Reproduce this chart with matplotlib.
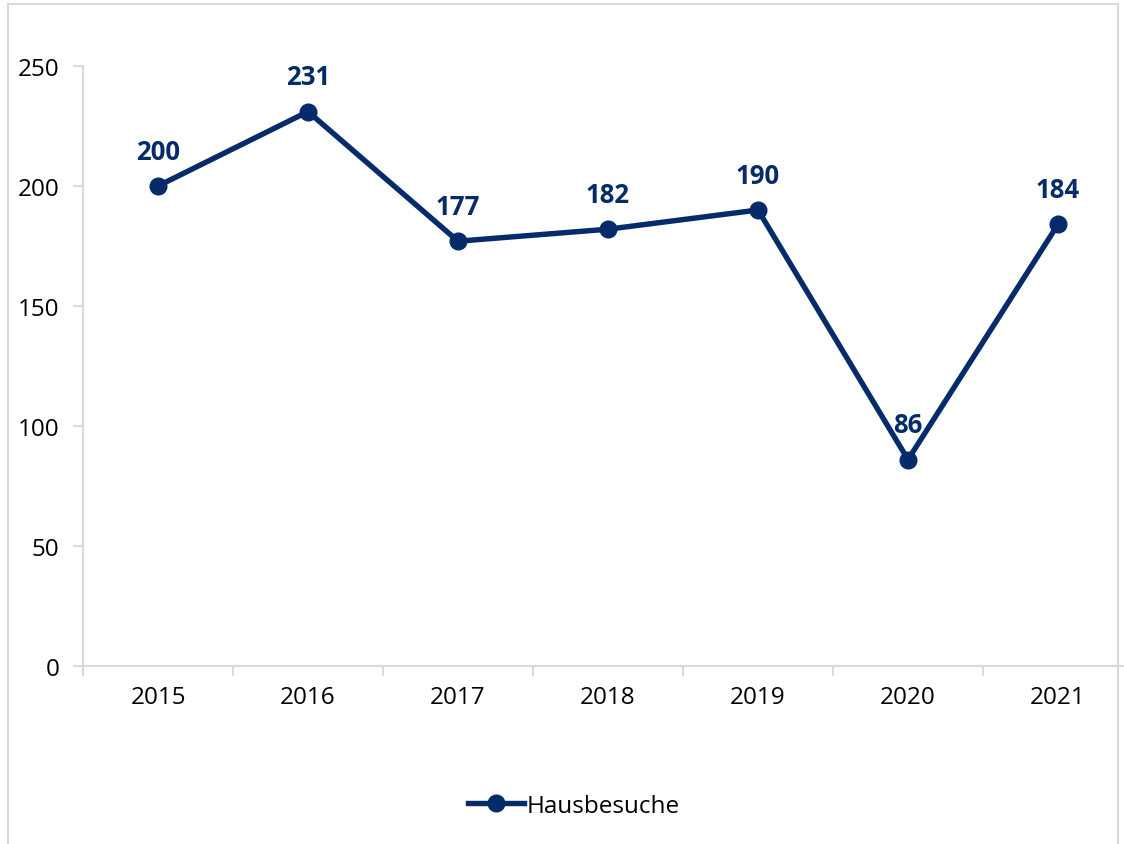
import matplotlib
matplotlib.use("Agg")
import matplotlib.pyplot as plt
from matplotlib.patches import Rectangle
from matplotlib.lines import Line2D

years = ["2015", "2016", "2017", "2018", "2019", "2020", "2021"]
hausbesuche = [200, 231, 177, 182, 190, 86, 184]
yticks = [0, 50, 100, 150, 200, 250]
series_name = "Hausbesuche"

navy = "#052B6A"
grid_gray = "#D9D9D9"
plt.rcParams["font.family"] = ["Open Sans", "DejaVu Sans"]

W, H = 1124, 845
fig = plt.figure(figsize=(W / 100, H / 100), dpi=100)

# outer border
fig.add_artist(Rectangle((8 / W, -0.05), (1118 - 8) / W, (H - 5) / H + 0.05,
                         transform=fig.transFigure, fill=False,
                         edgecolor=grid_gray, linewidth=1.5))

left, right = 83, 1133
bottom, top = 667, 67
ax = fig.add_axes([left / W, 1 - bottom / H, (right - left) / W, (bottom - top) / H])
x = list(range(len(years)))
ax.plot(x, hausbesuche, color=navy, linewidth=3.9, marker="o", markersize=12,
        solid_capstyle="round", zorder=3, clip_on=False)
for xi, v in zip(x, hausbesuche):
    ax.annotate(str(v), (xi, v), xytext=(0, 25), textcoords="offset points",
                ha="center", va="center", fontsize=18.5, fontweight="bold", color=navy)

ax.set_xlim(-0.5, len(years) - 0.5)
ax.set_ylim(0, 250)
ax.set_yticks(yticks)
ax.set_yticklabels([str(t) for t in yticks], fontsize=17.5)
ax.set_xticks([i - 0.5 for i in range(len(years) + 1)], minor=False)
ax.set_xticklabels([""] * (len(years) + 1))
ax.set_xticks(x, minor=True)
ax.set_xticklabels(years, minor=True, fontsize=17.5)
ax.tick_params(axis="x", which="major", length=7, width=1.5, color=grid_gray, direction="out")
ax.tick_params(axis="x", which="minor", length=0, pad=14)
ax.tick_params(axis="y", length=7, width=1.5, color=grid_gray, pad=10)
for s in ["top", "right"]:
    ax.spines[s].set_visible(False)
for s in ["left", "bottom"]:
    ax.spines[s].set_color(grid_gray)
    ax.spines[s].set_linewidth(1.5)

handle = Line2D([], [], color=navy, linewidth=3.9, marker="o", markersize=12)
fig.legend([handle], [series_name], loc="center", bbox_to_anchor=(574 / W, 1 - 807 / H),
           frameon=False, fontsize=17.5, handlelength=2.3, handletextpad=0.1)

fig.savefig("out.png", dpi=100)
